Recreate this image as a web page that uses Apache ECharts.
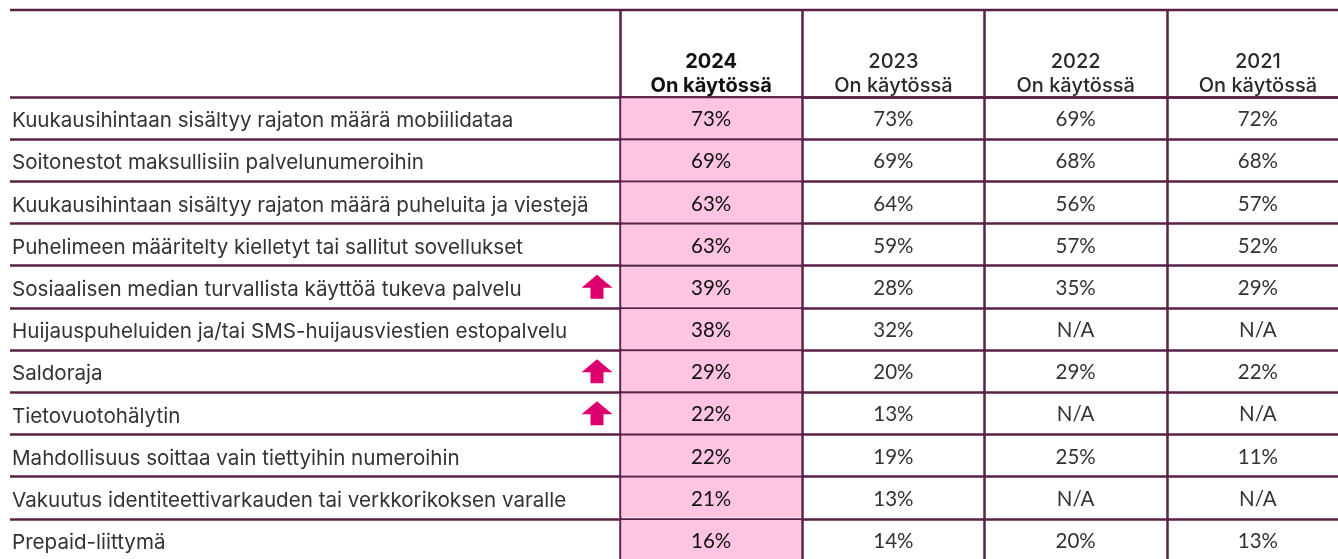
<!DOCTYPE html>
<html>
<head>
<meta charset="utf-8">
<script src="https://cdn.jsdelivr.net/npm/echarts@6/dist/echarts.min.js"></script>
<style>
html, body { margin: 0; padding: 0; background: #fff; }
#main { width: 1338px; height: 559px; }
</style>
</head>
<body>
<div id="main"></div>
<script>
var rowLabels = [
    'Kuukausihintaan sisältyy rajaton määrä mobiilidataa',
    'Soitonestot maksullisiin palvelunumeroihin',
    'Kuukausihintaan sisältyy rajaton määrä puheluita ja viestejä',
    'Puhelimeen määritelty kielletyt tai sallitut sovellukset',
    'Sosiaalisen median turvallista käyttöä tukeva palvelu',
    'Huijauspuheluiden ja/tai SMS-huijausviestien estopalvelu',
    'Saldoraja',
    'Tietovuotohälytin',
    'Mahdollisuus soittaa vain tiettyihin numeroihin',
    'Vakuutus identiteettivarkauden tai verkkorikoksen varalle',
    'Prepaid-liittymä'
];
var years = ['2024', '2023', '2022', '2021'];
var v2024 = [73, 69, 63, 63, 39, 38, 29, 22, 22, 21, 16];
var v2023 = [73, 69, 64, 59, 28, 32, 20, 13, 19, 13, 14];
var v2022 = [69, 68, 56, 57, 35, null, 29, null, 25, null, 20];
var v2021 = [72, 68, 57, 52, 29, null, 22, null, 11, null, 13];
// rows marked with an upward arrow (significant increase)
var arrowUp = [false, false, false, false, true, false, true, true, false, false, false];

var cols = [v2024, v2023, v2022, v2021];
var lineColor = '#5a2147';
var lineW = 2.5;

var cellData = [];
for (var c = 0; c < cols.length; c++) {
    for (var r = 0; r < rowLabels.length; r++) {
        cellData.push([c, r]);
    }
}
var arrowData = [];
for (var i = 0; i < arrowUp.length; i++) {
    if (arrowUp[i]) arrowData.push([1, i]);
}

function renderCell(params, api) {
    var x = api.value(0), y = api.value(1);
    var p = api.coord([x, y]);
    var s = api.size([1, 1]);
    var v = cols[x][y];
    var cur = x === 0;
    return {
        type: 'group',
        children: [{
            type: 'rect',
            shape: { x: p[0] - s[0] / 2 + 1.2, y: p[1] - s[1] / 2 + 1.2, width: s[0] - 2.4, height: s[1] - 2.4 },
            style: { fill: cur ? '#ffc4e2' : 'rgba(0,0,0,0)' }
        }, {
            type: 'text',
            style: {
                text: v == null ? 'N/A' : v + '%',
                x: p[0], y: p[1] + 1.5,
                align: 'center', verticalAlign: 'middle',
                fontSize: 20.5, fontFamily: 'Lato',
                fill: cur ? '#111' : '#333'
            }
        }]
    };
}

var myChart = echarts.init(document.getElementById('main'));

var option = {
    animation: false,
    grid: [
        { left: 10, top: 97, width: 610, height: 464, outerBoundsMode: 'none' },
        { left: 620, top: 97, width: 729, height: 464, outerBoundsMode: 'none' }
    ],
    graphic: [{
        type: 'line',
        shape: { x1: 10, y1: 10, x2: 1338, y2: 10 },
        style: { stroke: lineColor, lineWidth: lineW }
    }],
    xAxis: [{
        gridIndex: 0, type: 'value', min: 0, max: 1, show: false
    }, {
        gridIndex: 1, type: 'category', position: 'top', data: years,
        axisLine: { show: true, lineStyle: { color: lineColor, width: lineW } },
        axisTick: { show: true, interval: 0, length: 87, lineStyle: { color: lineColor, width: lineW } },
        splitLine: { show: true, interval: 0, lineStyle: { color: lineColor, width: lineW } },
        axisLabel: {
            interval: 0, margin: -1,
            formatter: function (val, idx) {
                return idx === 0 ? '{b|' + val + '}\n{b|On käytössä}' : '{m|' + val + '}\n{m|On käytössä}';
            },
            rich: {
                b: { fontFamily: 'Inter', fontSize: 20, fontWeight: 700, color: '#111', lineHeight: 24 },
                m: { fontFamily: 'Inter', fontSize: 20, fontWeight: 500, color: '#2a2a2a', lineHeight: 24 }
            }
        }
    }],
    yAxis: [{
        gridIndex: 0, type: 'category', inverse: true, data: rowLabels,
        axisLine: { show: false }, axisTick: { show: false },
        splitLine: { show: true, interval: 0, lineStyle: { color: lineColor, width: lineW } },
        axisLabel: {
            inside: true, margin: 2, interval: 0,
            formatter: function (val) { return '{t|' + val + '}'; },
            rich: {
                t: { fontFamily: 'Inter', fontSize: 20.6, color: '#333', padding: [6, 0, 0, 0] }
            }
        }
    }, {
        gridIndex: 1, type: 'category', inverse: true, data: rowLabels,
        axisLine: { show: false }, axisTick: { show: false }, axisLabel: { show: false },
        splitLine: { show: true, interval: 0, lineStyle: { color: lineColor, width: lineW } }
    }],
    series: [{
        type: 'custom',
        xAxisIndex: 1, yAxisIndex: 1,
        renderItem: renderCell,
        data: cellData,
        z: 1
    }, {
        type: 'scatter',
        xAxisIndex: 0, yAxisIndex: 0,
        symbol: 'path://M15.5,0 L31,13 L22,13 L22,24 L9,24 L9,13 L0,13 Z',
        symbolSize: [31, 24],
        symbolOffset: [-23, 0],
        itemStyle: { color: '#dc006f', opacity: 1 },
        data: arrowData
    }]
};
myChart.setOption(option);
</script>
</body>
</html>
